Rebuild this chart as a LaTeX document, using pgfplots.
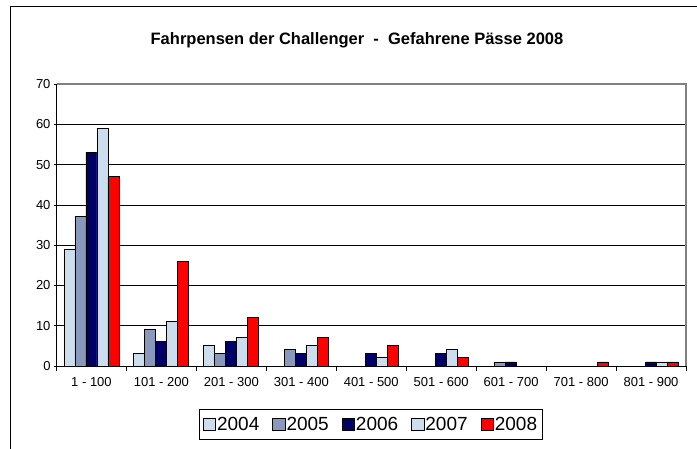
\documentclass[border=0pt]{standalone}
\usepackage{pgfplots}
\pgfplotsset{compat=1.18}
\usepackage{fontspec}
\setmainfont{Liberation Sans}
\definecolor{c04}{RGB}{204,221,238}
\definecolor{c05}{RGB}{136,153,187}
\definecolor{c06}{RGB}{0,0,102}
\definecolor{c08}{RGB}{255,0,0}
\begin{document}
\begin{tikzpicture}
\useasboundingbox (0,0) rectangle (697bp,449bp);
\draw[black, line width=0.8bp] (10bp,0) -- (10bp,443bp) -- (697bp,443bp);
\node[font=\fontsize{16.5bp}{19bp}\selectfont\bfseries] at (357bp,409bp) {Fahrpensen der Challenger\ \ -\ \ Gefahrene Pässe 2008};
\begin{axis}[
  name=ax,
  at={(56.5bp,83bp)}, anchor=south west,
  scale only axis, width=629.5bp, height=282bp,
  ymin=0, ymax=70, ytick={0,10,...,70},
  xmin=-0.5, xmax=8.5,
  xtick={0,...,8},
  xticklabels={1 - 100,101 - 200,201 - 300,301 - 400,401 - 500,501 - 600,601 - 700,701 - 800,801 - 900},
  minor xtick={-0.5,0.5,...,8.5},
  major x tick style={draw=none},
  tick align=outside,
  major tick length=5bp, minor tick length=5bp,
  tick style={black, line width=0.6bp},
  axis lines=left, axis line style={-, black, line width=0.8bp},
  ymajorgrids, grid style={black, line width=0.6bp},
  ticklabel style={font=\fontsize{13bp}{15bp}\selectfont},
  xticklabel style={yshift=-3bp},
  /pgf/number format/assume math mode=true,
  ybar=0pt, bar width=11bp,
  every axis plot/.append style={draw=black, line width=0.9bp},
  legend columns=5,
  legend style={at={(0.4996,-0.2074)}, anchor=center, draw=black, line width=0.8bp,
    font=\fontsize{19bp}{21bp}\selectfont, inner xsep=3bp, inner ysep=5.5bp,
    /tikz/every even column/.append style={column sep=11bp},
    /tikz/every odd column/.append style={column sep=-1bp}},
  legend image code/.code={\draw[#1, draw=black, line width=0.6bp] (0bp,-6.3bp) rectangle (12.6bp,6.3bp);},
]
\addplot[fill=c04] coordinates {(0,29) (1,3) (2,5)};
\addplot[fill=c05] coordinates {(0,37) (1,9) (2,3) (3,4) (6,1)};
\addplot[fill=c06] coordinates {(0,53) (1,6) (2,6) (3,3) (4,3) (5,3) (6,1) (8,1)};
\addplot[fill=c04] coordinates {(0,59) (1,11) (2,7) (3,5) (4,2) (5,4) (8,1)};
\addplot[fill=c08] coordinates {(0,47) (1,26) (2,12) (3,7) (4,5) (5,2) (7,1) (8,1)};
\legend{2004,2005,2006,2007,2008}
\end{axis}
\draw[gray, line width=1.2bp] (ax.north west) -- (ax.north east) -- (ax.south east);
\end{tikzpicture}
\end{document}
